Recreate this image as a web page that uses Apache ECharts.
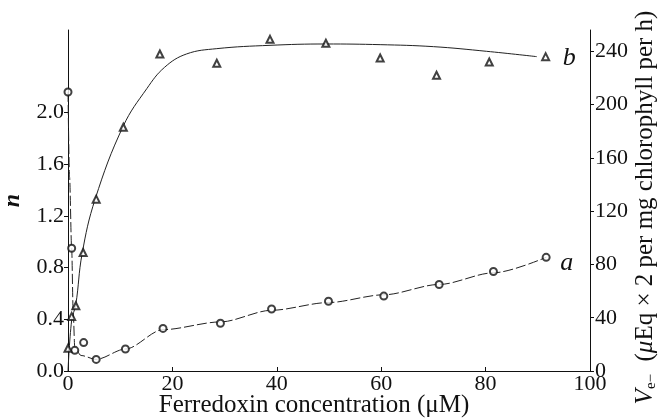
<!DOCTYPE html>
<html>
<head>
<meta charset="utf-8">
<script src="https://cdn.jsdelivr.net/npm/echarts@6/dist/echarts.min.js"></script>
<style>
html, body { margin: 0; padding: 0; background: #fff; }
#main { width: 662px; height: 418px; }
</style>
</head>
<body>
<div id="main"></div>
<script>
// tick labels
var xTicks = [0, 20, 40, 60, 80, 100];
var nTicks = [0, 0.4, 0.8, 1.2, 1.6, 2.0];
var vTicks = [0, 40, 80, 120, 160, 200, 240];

// curve a : n (circles)
var aX = [0, 0.7, 1.3, 3.0, 5.4, 11.0, 18.2, 29.2, 39.0, 49.9, 60.5, 71.1, 81.5, 91.6];
var aN = [2.16, 0.95, 0.16, 0.22, 0.09, 0.17, 0.33, 0.37, 0.48, 0.54, 0.58, 0.67, 0.77, 0.88];
// drawn line for a
var aLineX = [0, 0.3, 0.7, 1.0, 1.3, 2.5, 5.4, 11, 18.2, 29.2, 39, 49.9, 60.5, 71.1, 81.5, 91.6];
var aLineN = [2.16, 1.5, 0.95, 0.45, 0.18, 0.12, 0.09, 0.17, 0.32, 0.38, 0.47, 0.53, 0.59, 0.67, 0.76, 0.88];

// curve b : V (triangles)
var bX = [0, 0.7, 1.5, 2.9, 5.4, 10.6, 17.6, 28.5, 38.7, 49.4, 59.8, 70.6, 80.7, 91.5];
var bV = [17, 41, 49, 89, 129, 183, 238, 231, 249, 246, 235, 222, 232, 236];
// drawn line for b
var bLineX = [0, 0.7, 1.5, 2.7, 5.2, 10.6, 15.1, 18.5, 22.7, 28.5, 38.7, 49.4, 59.8, 70, 80.2, 89.8];
var bLineV = [0, 38, 50, 88, 129, 184, 212, 228, 238, 242, 244.5, 245.5, 245, 243.5, 240, 236];

function pairs(xs, ys) {
    var out = [];
    for (var i = 0; i < xs.length; i++) out.push([xs[i], ys[i]]);
    return out;
}

var serif = '"Liberation Serif", "DejaVu Serif", serif';

(function(){
    var myChart = echarts.init(document.getElementById('main'));

    var option = {
        animation: false,
        backgroundColor: '#fff',
        grid: {
            left: 68,
            right: 72,
            top: 30,
            bottom: 47,
            outerBoundsMode: 'none'
        },
        xAxis: {
            type: 'value',
            min: 0,
            max: 100,
            interval: 20,
            name: 'Ferredoxin concentration (\u03bcM)',
            nameLocation: 'middle',
            nameGap: 22,
            nameMoveOverlap: false,
            nameTextStyle: {
                fontFamily: serif,
                fontSize: 25,
                color: '#111',
                padding: [0, 30, 0, 0]
            },
            axisLine: { lineStyle: { color: '#111', width: 1 } },
            axisTick: { inside: true, length: 4, lineStyle: { color: '#111' }, customValues: xTicks },
            axisLabel: {
                fontFamily: serif, fontSize: 22, color: '#111', margin: 2,
                customValues: xTicks
            },
            splitLine: { show: false }
        },
        yAxis: [
            {
                type: 'value',
                min: 0,
                max: 2.64,
                position: 'left',
                name: 'n',
                nameLocation: 'middle',
                nameGap: 43,
                nameMoveOverlap: false,
                nameTextStyle: {
                    fontFamily: serif, fontSize: 24, fontStyle: 'italic',
                    fontWeight: 'bold', color: '#111'
                },
                axisLine: { show: true, lineStyle: { color: '#111', width: 1 } },
                axisTick: { show: true, length: 4, lineStyle: { color: '#111' }, customValues: nTicks },
                axisLabel: {
                    fontFamily: serif, fontSize: 22, color: '#111', margin: 4,
                    customValues: nTicks,
                    formatter: function (v) { return v.toFixed(1); }
                },
                splitLine: { show: false }
            },
            {
                type: 'value',
                min: 0,
                max: 256,
                position: 'right',
                name: '{v|V}{s|e\u2212}  ({v|\u03bc}Eq \u00d7 2 per mg chlorophyll per h)',
                nameLocation: 'middle',
                nameGap: 42,
                nameMoveOverlap: false,
                nameTextStyle: {
                    fontFamily: serif, fontSize: 25, color: '#111',
                    padding: [0, 14, 0, 0],
                    rich: {
                        v: { fontFamily: serif, fontSize: 25, fontStyle: 'italic', color: '#111' },
                        s: { fontFamily: serif, fontSize: 15, color: '#111', padding: [12, 0, 0, 0] }
                    }
                },
                axisLine: { show: true, lineStyle: { color: '#111', width: 1 } },
                axisTick: { show: true, length: 4, lineStyle: { color: '#111' }, customValues: vTicks },
                axisLabel: {
                    fontFamily: serif, fontSize: 22, color: '#111', margin: 5,
                    customValues: vTicks
                },
                splitLine: { show: false }
            }
        ],
        series: [
            {
                name: 'a line',
                type: 'line',
                yAxisIndex: 0,
                data: pairs(aLineX, aLineN),
                smooth: 0.3,
                smoothMonotone: 'x',
                showSymbol: false,
                symbol: 'none',
                lineStyle: { color: '#222', width: 1, type: [10, 3] },
                endLabel: {
                    show: true,
                    formatter: 'a',
                    fontFamily: serif,
                    fontSize: 26,
                    fontStyle: 'italic',
                    color: '#111',
                    offset: [6, 6]
                }
            },
            {
                name: 'b line',
                type: 'line',
                yAxisIndex: 1,
                data: pairs(bLineX, bLineV),
                smooth: 0.4,
                showSymbol: false,
                symbol: 'none',
                lineStyle: { color: '#222', width: 1 },
                endLabel: {
                    show: true,
                    formatter: 'b',
                    fontFamily: serif,
                    fontSize: 26,
                    fontStyle: 'italic',
                    color: '#111',
                    offset: [18, 2]
                }
            },
            {
                name: 'a',
                type: 'scatter',
                yAxisIndex: 0,
                data: pairs(aX, aN),
                symbol: 'emptyCircle',
                symbolSize: 7,
                itemStyle: { color: '#111', borderColor: '#111', borderWidth: 1.2 },
                z: 5
            },
            {
                name: 'b',
                type: 'scatter',
                yAxisIndex: 1,
                data: pairs(bX, bV),
                symbol: 'emptyTriangle',
                symbolSize: 7,
                itemStyle: { color: '#111', borderColor: '#111', borderWidth: 1.5 },
                z: 5
            }
        ]
    };
    myChart.setOption(option);
})();
</script>
</body>
</html>
